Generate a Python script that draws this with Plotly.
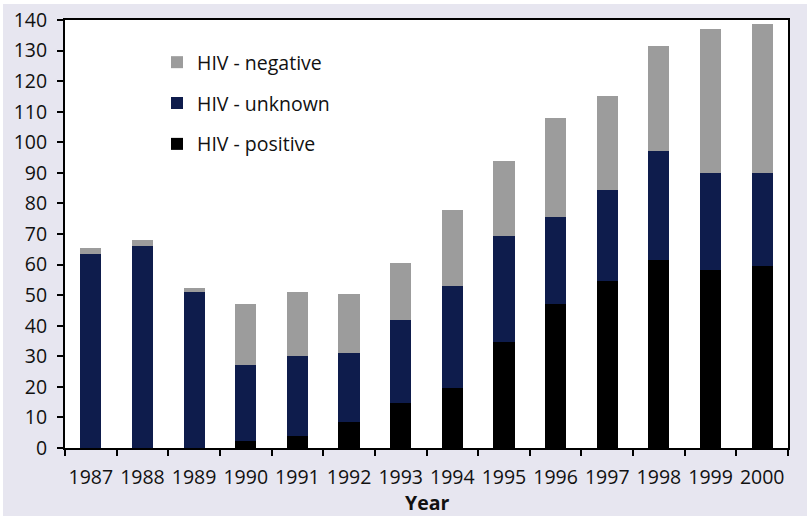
import plotly.graph_objects as go

years = ["1987", "1988", "1989", "1990", "1991", "1992", "1993", "1994",
         "1995", "1996", "1997", "1998", "1999", "2000"]
hiv_positive = [0, 0, 0, 2.3, 4, 8.5, 14.7, 19.7, 34.8, 47.2, 54.6, 61.5, 58.3, 59.5]
hiv_unknown = [63.5, 66, 51, 24.9, 26, 22.5, 27.3, 33.3, 34.7, 28.3, 29.9, 35.7, 31.7, 30.5]
hiv_negative = [2, 2, 1.5, 19.8, 21, 19.5, 18.5, 25, 24.5, 32.5, 30.6, 34.3, 47.1, 48.7]

FONT = "Open Sans, DejaVu Sans, sans-serif"
FS = 19.5

fig = go.Figure()
fig.add_trace(go.Bar(x=years, y=hiv_positive, name="HIV - positive", legendrank=3,
                     marker=dict(color="#000000", line=dict(width=0)), legendgroup="p"))
fig.add_trace(go.Bar(x=years, y=hiv_unknown, name="HIV - unknown", legendrank=2,
                     marker=dict(color="#0E1C4C", line=dict(width=0)), legendgroup="u"))
fig.add_trace(go.Bar(x=years, y=hiv_negative, name="HIV - negative", legendrank=1,
                     marker=dict(color="#9C9C9C", line=dict(width=0)), legendgroup="n"))

W, H = 807, 516
L, R, T, B = 65, 19, 20, 68
pw, ph = W - L - R, H - T - B

fig.update_layout(
    width=W, height=H,
    barmode="stack", bargap=0.59,
    margin=dict(l=L, r=R, t=T, b=B, pad=0),
    paper_bgcolor="white", plot_bgcolor="white",
    font=dict(family=FONT, size=FS, color="#111111"),
    legend=dict(x=(157 - L) / pw, y=(448 - 43) / ph, xanchor="left", yanchor="top",
                traceorder="grouped", tracegroupgap=12.5,
                bgcolor="rgba(0,0,0,0)", font=dict(family=FONT, size=FS)),
    xaxis=dict(type="category", tickson="boundaries", ticks="outside", ticklen=6,
               tickwidth=2, tickcolor="black", showline=True, linewidth=2,
               linecolor="black", mirror=True, showgrid=False, tickangle=0,
               automargin=False, ticklabelstandoff=11),
    yaxis=dict(range=[0, 140], dtick=10, ticks="outside", ticklen=6, tickwidth=2,
               tickcolor="black", showline=True, linewidth=2, linecolor="black",
               mirror=True, showgrid=False, zeroline=False, automargin=False,
               ticklabelstandoff=6),
    annotations=[
        dict(text="<b>Year</b>", xref="paper", yref="paper", x=0.5,
             y=(448 - 502) / ph, xanchor="center", yanchor="middle",
             showarrow=False, font=dict(family=FONT, size=FS)),
    ],
    shapes=[
        dict(type="rect", xref="paper", yref="paper", layer="below",
             x0=(3 - L) / pw, x1=(W - L) / pw, y0=(448 - H) / ph, y1=(448 - 4) / ph,
             fillcolor="#E7E6F0", line=dict(width=0)),
        dict(type="rect", xref="paper", yref="paper", layer="below",
             x0=0, x1=1, y0=0, y1=1, fillcolor="white", line=dict(width=0)),
    ],
)

fig.write_html("out.html", config={"displayModeBar": False},
               post_script="document.body.style.margin='0';")
